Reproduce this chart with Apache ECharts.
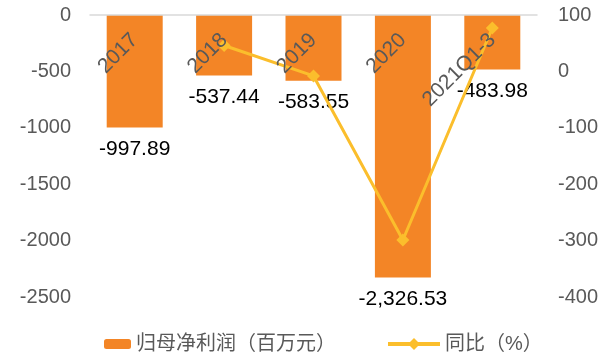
<!DOCTYPE html>
<html><head><meta charset="utf-8">
<script src="https://cdn.jsdelivr.net/npm/echarts@6/dist/echarts.min.js"></script>
<style>html,body{margin:0;padding:0;background:#fff}#c{width:604px;height:356px}</style>
</head><body><div id="c"></div>
<script>
const categories = ['2017', '2018', '2019', '2020', '2021Q1-3'];
const profit = [-997.89, -537.44, -583.55, -2326.53, -483.98];
const yoy = [null, 46, -8, -299, 77];
const leftTicks = {min: -2500, max: 0, interval: 500};
const rightTicks = {min: -400, max: 100, interval: 100};

const FONT = '"Liberation Sans", Arial, "Noto Sans CJK SC", sans-serif';
const chart = echarts.init(document.getElementById('c'));
function fmt(v){
  return v.toLocaleString('en-US', {minimumFractionDigits: 2, maximumFractionDigits: 2});
}
chart.setOption({
  animation: false,
  textStyle: {fontFamily: FONT},
  grid: {left: 90, right: 67, top: 15, height: 282},
  legend: [
    {data: ['归母净利润（百万元）'], left: 99, top: 329, itemWidth: 27, itemHeight: 10, itemGap: 0,
     textStyle: {fontSize: 20, color: '#595959', fontFamily: FONT}},
    {data: ['同比（%）'], left: 381, top: 329, itemWidth: 52, itemHeight: 15, itemGap: 0,
     lineStyle: {width: 4},
     textStyle: {fontSize: 20, color: '#595959', fontFamily: FONT}}
  ],
  xAxis: {
    type: 'category', data: categories, position: 'top',
    axisLine: {lineStyle: {color: '#d9d9d9', width: 1.5}},
    axisTick: {show: false},
    axisLabel: {inside: true, rotate: 45, margin: 22, fontSize: 21, color: '#595959', fontFamily: FONT},
    z: 10
  },
  yAxis: [
    {type: 'value', min: leftTicks.min, max: leftTicks.max, interval: leftTicks.interval,
     splitLine: {show: false}, axisLine: {show: false}, axisTick: {show: false},
     axisLabel: {fontSize: 20, color: '#595959', margin: 19, fontFamily: FONT, formatter: v => String(v)}},
    {type: 'value', min: rightTicks.min, max: rightTicks.max, interval: rightTicks.interval,
     splitLine: {show: false}, axisLine: {show: false}, axisTick: {show: false},
     axisLabel: {fontSize: 20, color: '#595959', margin: 21, fontFamily: FONT, formatter: v => String(v)}}
  ],
  series: [
    {name: '归母净利润（百万元）', type: 'bar', data: profit, barWidth: 56,
     itemStyle: {color: '#F38526'},
     label: {show: true, position: 'bottom', distance: 11, fontSize: 21, color: '#000',
             fontFamily: FONT, formatter: p => fmt(p.value)}},
    {name: '同比（%）', type: 'line', yAxisIndex: 1, data: yoy,
     symbol: 'diamond', symbolSize: 13, connectNulls: false,
     lineStyle: {color: '#FBBE2C', width: 3}, itemStyle: {color: '#FBBE2C'}, z: 5}
  ]
});
</script></body></html>
